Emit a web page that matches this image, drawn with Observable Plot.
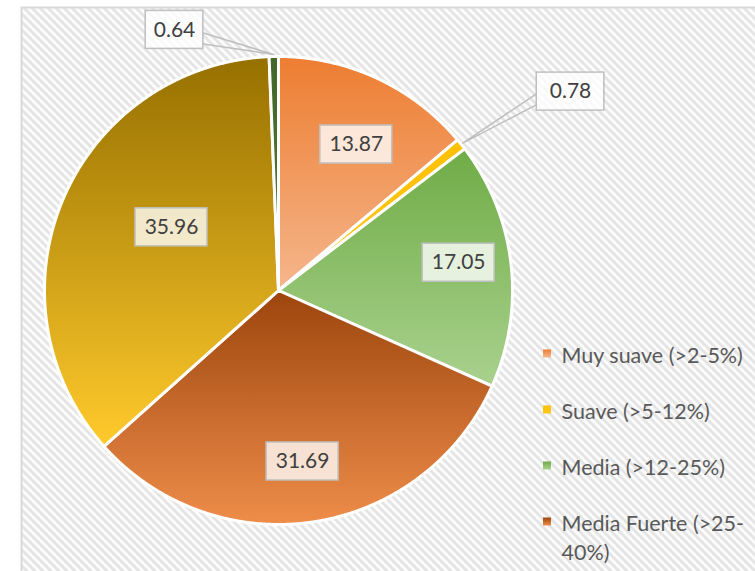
<!DOCTYPE html>
<html>
<head>
<meta charset="utf-8">
<script src="https://cdn.jsdelivr.net/npm/d3@7"></script>
<script src="https://cdn.jsdelivr.net/npm/@observablehq/plot@0.6"></script>
<style>
  html, body { margin: 0; padding: 0; background: #fff; overflow: hidden; }
</style>
</head>
<body>
<div id="chart"></div>
<script>
// ---- data ----
const categories = ["Muy suave (>2-5%)", "Suave (>5-12%)", "Media (>12-25%)", "Media Fuerte (>25-\n40%)", "Fuerte (>40-55%)", "Muy fuerte (>55%)"];
const values = [13.87, 0.78, 17.05, 31.69, 35.96, 0.64];
const valueLabels = ["13.87", "0.78", "17.05", "31.69", "35.96", "0.64"];

// ---- styles ----
const gradientStops = [
  ["#ED7D31", "#F5B68C"],
  ["#FFC000", "#FFC71A"],
  ["#6FAC46", "#A9D18E"],
  ["#9C450D", "#EF8D4A"],
  ["#967000", "#FFCA2C"],
  ["#43682B", "#4E7A32"]
];

// ---- layout ----
const W = 755, H = 571, CX = 278, CY = 290, R = 234;
const labelNudgeDeg = [3.1, 4.4, -2.2, 0.8, 7.6, -20.6];
const labelRadius = [0.707, 1.51, 0.779, 0.738, 0.531, 1.199];
const boxPad = [0, 10, 0, 0, 0, 0];
const callout = [null, {side: -1, base: [-2, -13]}, null, null, null, {side: 1, base: [-3, -14]}];
const BOX_H = 38, CHAR_W = 14.4;
const LEG_SQ_X = 543 - CX, LEG_SQ = 8, LEG_TEXT_X = 561 - CX, LEG_Y0 = 353.5, LEG_STEP = 56, LEG_LINE = 29;
const LEG_FONT = 21.5;

const toXY = (a, r) => [r * Math.sin(a), r * Math.cos(a)];
const arcs = d3.pie().sort(null).value(d => d)(values);

const slices = arcs.map(a => {
  const pts = [[0, 0]];
  const n = Math.max(2, Math.ceil((a.endAngle - a.startAngle) / 0.004));
  for (let k = 0; k <= n; k++) {
    const t = a.startAngle + (a.endAngle - a.startAngle) * k / n;
    pts.push(toXY(t, R));
  }
  pts.push([0, 0]);
  return pts;
});

const labels = arcs.map((a, i) => {
  const mid = (a.startAngle + a.endAngle) / 2;
  const [x, y] = toXY(mid + labelNudgeDeg[i] * Math.PI / 180, labelRadius[i] * R);
  const w = valueLabels[i].length * CHAR_W + boxPad[i];
  return {i, x, y, w, text: valueLabels[i], mid};
});

const wedges = [];
labels.forEach(d => {
  const c = callout[d.i];
  if (!c) return;
  const ex = d.x + c.side * d.w / 2;
  const tip = toXY(d.mid, R + 2);
  wedges.push({i: d.i, x: ex, y: d.y + c.base[0]});
  wedges.push({i: d.i, x: tip[0], y: tip[1]});
  wedges.push({i: d.i, x: ex, y: d.y + c.base[1]});
});

// legend rows flow downward; rows that fall below the chart area are not visible (as in the original)
let yPx = LEG_Y0;
const legendAll = categories.map((c, i) => {
  const row = {i, text: c, ypx: yPx, yc: CY - yPx};
  yPx += LEG_STEP + (c.split("\n").length - 1) * LEG_LINE;
  return row;
});
const legend = legendAll.filter(d => d.ypx + 10 < H);

const defsMark = () => {
  const defs = d3.create("svg:defs");
  const pat = defs.append("pattern").attr("id", "hatch").attr("patternUnits", "userSpaceOnUse")
    .attr("width", 8).attr("height", 8);
  pat.append("rect").attr("width", 8).attr("height", 8).attr("fill", "white");
  pat.append("path").attr("d", "M-2,-2L10,10M-2,6L2,10M6,-2L10,2")
    .attr("stroke", "#e3e3e3").attr("stroke-width", 3);
  gradientStops.forEach(([a, b], i) => {
    const g = defs.append("linearGradient").attr("id", `g${i}`)
      .attr("x1", 0).attr("y1", 0).attr("x2", 0).attr("y2", 1);
    g.append("stop").attr("offset", 0).attr("stop-color", a);
    g.append("stop").attr("offset", 1).attr("stop-color", b);
  });
  return defs.node();
};

const FONT = "Lato, 'Open Sans', sans-serif";

const chart = Plot.plot({
  width: W,
  height: H,
  margin: 0,
  x: {domain: [-CX, W - CX], range: [0, W], axis: null},
  y: {domain: [CY - H, CY], range: [H, 0], axis: null},
  style: {background: "white"},
  marks: [
    defsMark,
    Plot.frame({fill: "url(#hatch)", stroke: "#d9d9d9", strokeWidth: 2, insetLeft: 21, insetTop: 7, insetRight: -10, insetBottom: -10}),
    ...slices.map((pts, i) => Plot.line(pts, {
      x: d => d[0], y: d => d[1], fill: `url(#g${i})`, stroke: "white", strokeWidth: 3, strokeLinejoin: "round", curve: "linear"
    })),
    Plot.line(wedges, {x: "x", y: "y", z: "i", stroke: "#BFBFBF", strokeWidth: 1.5, fill: "none"}),
    Plot.rect(labels, {
      x1: d => d.x - d.w / 2, x2: d => d.x + d.w / 2,
      y1: d => d.y - BOX_H / 2, y2: d => d.y + BOX_H / 2,
      fill: "white", fillOpacity: 0.78, stroke: "#BFBFBF", strokeWidth: 1.5
    }),
    Plot.text(labels, {x: "x", y: "y", text: "text", fontSize: 21, fontFamily: FONT, fill: "#404040"}),
    ...legend.map(d => Plot.rect([d], {
      x1: LEG_SQ_X, x2: LEG_SQ_X + LEG_SQ,
      y1: r => r.yc - LEG_SQ / 2, y2: r => r.yc + LEG_SQ / 2,
      fill: `url(#g${d.i})`
    })),
    Plot.text(legend, {
      x: LEG_TEXT_X, y: d => d.yc + 12, text: "text", textAnchor: "start", lineAnchor: "top",
      lineHeight: LEG_LINE / LEG_FONT, fontSize: LEG_FONT, fontFamily: FONT, fill: "#595959"
    })
  ]
});
document.getElementById("chart").appendChild(chart);
</script>
</body>
</html>
